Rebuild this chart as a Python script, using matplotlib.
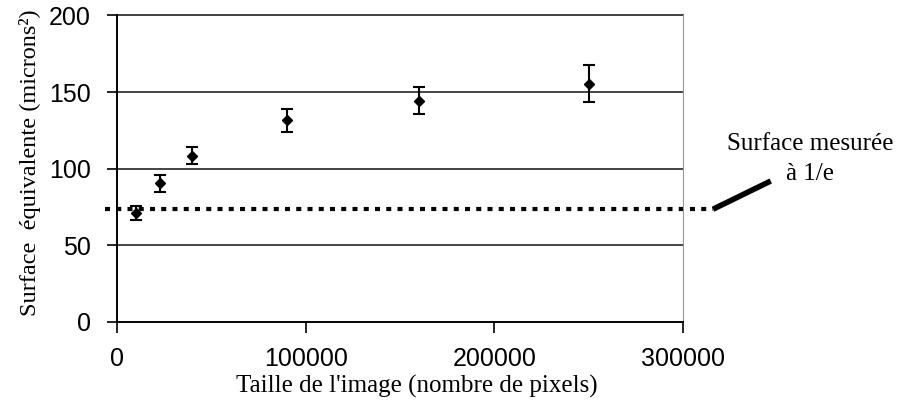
import matplotlib
matplotlib.use("Agg")
from matplotlib import pyplot as plt

# data
taille = [10000, 23000, 40000, 90000, 160000, 250000]
surface = [71, 90.5, 108.5, 131.5, 144.5, 155.5]
erreur = [4.5, 5.4, 5.5, 7.7, 8.7, 12]
surface_1e = 73.6

yticks = [0, 50, 100, 150, 200]
xticks = [0, 100000, 200000, 300000]

serif = ["Liberation Serif", "DejaVu Serif"]
sans = ["Liberation Sans", "DejaVu Sans"]

fig = plt.figure(figsize=(9.03, 4.15), dpi=100)
ax = fig.add_axes([0.1296, 0.2241, 0.6268, 0.7386])

for v in yticks[1:]:
    ax.axhline(v, color="#444444", lw=1.4, zorder=1)

ax.errorbar(taille, surface, yerr=erreur, fmt="D", color="black", ms=5,
            ecolor="black", elinewidth=1.5, capsize=4, capthick=1.5, zorder=3)

# dotted reference line, sticking out on both sides of the plot
trans = ax.get_yaxis_transform()
ax.plot([-0.021, 1.053], [surface_1e, surface_1e], transform=trans,
        color="black", lw=3, ls=(0, (1.2, 1.5)), clip_on=False, zorder=2)
ax.plot([1.053, 1.155], [surface_1e / 200, 0.46], transform=ax.transAxes,
        color="black", lw=4, solid_capstyle="butt", clip_on=False)
fig.text(0.897, 0.617, "Surface mesurée\nà 1/e", ha="center", va="center",
         fontsize=18, family=serif, linespacing=1.5)

ax.set_xlim(0, 300000)
ax.set_ylim(0, 200)
ax.set_xticks(xticks)
ax.set_yticks(yticks)
ax.set_xticklabels([str(t) for t in xticks], family=sans, fontsize=18)
ax.set_yticklabels([str(t) for t in yticks], family=sans, fontsize=18)
ax.tick_params(axis="y", direction="out", length=7, width=1.2, pad=12)
ax.tick_params(axis="x", direction="out", length=8, width=1.2, pad=10)

ax.spines["top"].set_visible(False)
ax.spines["right"].set_color("#999999")
ax.spines["left"].set_linewidth(1.4)
ax.spines["bottom"].set_linewidth(1.4)
ax.axhline(200, color="#444444", lw=1.4, zorder=1, clip_on=False)

ax.set_xlabel("Taille de l'image (nombre de pixels)", family=serif, fontsize=18)
ax.set_ylabel("Surface  équivalente (microns²)", family=serif, fontsize=17.5)
ax.xaxis.set_label_coords(0.53, -0.172)
ax.yaxis.set_label_coords(-0.134, 0.52)

fig.savefig("out.png", dpi=100)
